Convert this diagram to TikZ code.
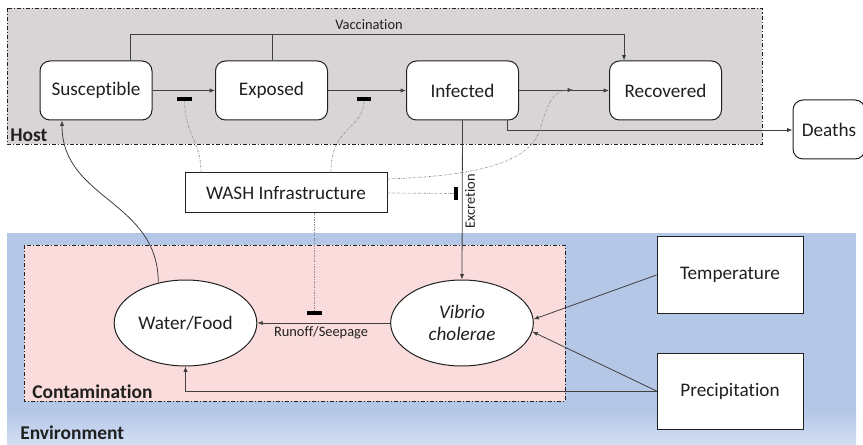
\documentclass[tikz,border=0pt]{standalone}
\usepackage{fontspec}
\setmainfont{Carlito}[Ligatures=NoCommon]
\usetikzlibrary{arrows.meta,shapes.geometric}
\definecolor{hostgray}{HTML}{D9D5D6}
\definecolor{envblue}{HTML}{B4C7E7}
\definecolor{envlight}{HTML}{D4E0F3}
\definecolor{contpink}{HTML}{FADCDC}
\definecolor{ink}{HTML}{202020}
\definecolor{wire}{HTML}{404040}
\definecolor{dotgray}{HTML}{8C8C8C}
\begin{document}
\begin{tikzpicture}[x=0.75pt,y=-0.75pt,
  font=\fontsize{14.4}{16}\selectfont, text=ink,
  state/.style={draw=ink, line width=0.75pt, fill=white, rounded corners=7.5pt,
    minimum width=84pt, minimum height=44.25pt, inner sep=0pt},
  plainbox/.style={draw=ink, line width=0.75pt, fill=white, inner sep=0pt},
  blob/.style={ellipse, draw=ink, line width=0.75pt, fill=white, inner sep=0pt,
    minimum width=107pt, minimum height=64.5pt},
  region/.style={draw=ink, line width=0.6pt, dash pattern=on 3pt off 1.5pt on 0.8pt off 1.5pt},
  link/.style={draw=wire, line width=0.6pt},
  arr/.style={link, -{Latex[length=4pt,width=3.2pt]}},
  wash/.style={draw=dotgray, line width=0.5pt, dash pattern=on 1.5pt off 1pt on 0.4pt off 1pt},
  barmark/.style={draw=black, line width=2.4pt},
  small/.style={font=\fontsize{10.8}{12}\selectfont},
  tag/.style={font=\bfseries\fontsize{14.6}{16}\selectfont, anchor=west, inner sep=0pt}]
\useasboundingbox (0,0) rectangle (863,445);

% compartments
\fill[hostgray] (7,8) rectangle (762,144);
\draw[region] (7,8) rectangle (762,144);
\fill[envblue] (7,233) rectangle (856,410);
\shade[top color=envblue, bottom color=envlight] (7,410) rectangle (856,446);
\fill[contpink] (24,245) rectangle (565,401);
\draw[region] (24,245) rectangle (565,401);

\node[tag] (hostlab) at (10,135) {Host};
\node[tag] (contlab) at (32,392) {Contamination};
\node[tag] (envlab) at (20,433) {Environment};

% host states
\node[state] (S) at (96,90.5) {Susceptible};
\node[state] (E) at (271.5,90.5) {Exposed};
\node[state] (I) at (462.5,90.5) {Infected};
\node[state] (R) at (665.5,90.5) {Recovered};
\node[state, minimum width=54pt] (D) at (829,129.5) {Deaths};

\node[plainbox, minimum width=151.5pt, minimum height=30pt] (WASH) at (286,193) {WASH Infrastructure};

% environment
\node[blob] (W) at (185.5,323) {Water/Food};
\node[blob, align=center, font=\itshape\fontsize{14.4}{17}\selectfont] (V) at (462,323) {Vibrio\\cholerae};
\node[plainbox, minimum width=109.5pt, minimum height=57pt] (T) at (730,275) {Temperature};
\node[plainbox, minimum width=109.5pt, minimum height=57pt] (P) at (730,391) {Precipitation};

% labels
\node[small] (vacc) at (369,25) {Vaccination};
\node[small] (runoff) at (321,333) {Runoff/Seepage};
\node[small, rotate=90] (excr) at (470,201) {Excretion};

% transitions
\draw[arr] (S.east) -- (E.west);
\draw[arr] (E.east) -- (I.west);
\draw[arr] (I.east) -- (R.west);

\coordinate (vs) at (130,34);
\coordinate (ve) at (272,34);
\coordinate (vr) at (624,34);
\draw[arr] (vs |- S.north) -- (vs) -- (vr) -- (vr |- R.north);
\draw[link] (ve |- E.north) -- (ve);

\coordinate (dk) at (507,130);
\draw[arr] (dk |- I.south) -- (dk) -- (dk -| D.west);

\draw[arr] (I.south) -- (V.north);
\draw[arr] (V.west) -- (W.east);
\draw[arr] (T.west) -- (V.3);
\draw[arr] (P.west) -- (V.-7);
\draw[arr] (P.west) -| (W.south);

\coordinate (sf) at (62,0);
\draw[arr] (W.124) .. controls (158,200) and (62,200) .. (sf |- S.south);

% WASH interventions
\coordinate (b1) at (184.5,99);
\coordinate (b2) at (364,99);
\coordinate (b3) at (456,193.5);
\coordinate (b4) at (314.5,313);
\coordinate (ir) at (573,90);
\coordinate (w1) at (201,0);
\coordinate (w2) at (331,0);
\coordinate (w3) at (0,179);

\draw[wash] (w1 |- WASH.north) .. controls (201,140) and (184.5,135) .. ([yshift=-1pt]b1);
\draw[wash] (w2 |- WASH.north) .. controls (331,125) and (364,130) .. ([yshift=-1pt]b2);
\draw[wash, -{Latex[length=4pt,width=3.2pt,color=wire]}] (WASH.east |- w3)
  .. controls (470,176) and (528,165) .. (540,130)
  .. controls (548,100) and (555,90) .. (ir);
\draw[wash] (WASH.east) -- ([xshift=-1pt]b3);
\draw[wash] (b4 |- WASH.south) -- ([yshift=1pt]b4);

\draw[barmark] ([xshift=-5.6pt]b1) -- ([xshift=5.6pt]b1);
\draw[barmark] ([xshift=-5.6pt]b2) -- ([xshift=5.6pt]b2);
\draw[barmark] ([yshift=-4.9pt]b3) -- ([yshift=4.9pt]b3);
\draw[barmark] ([xshift=-5.6pt]b4) -- ([xshift=5.6pt]b4);
\end{tikzpicture}
\end{document}
